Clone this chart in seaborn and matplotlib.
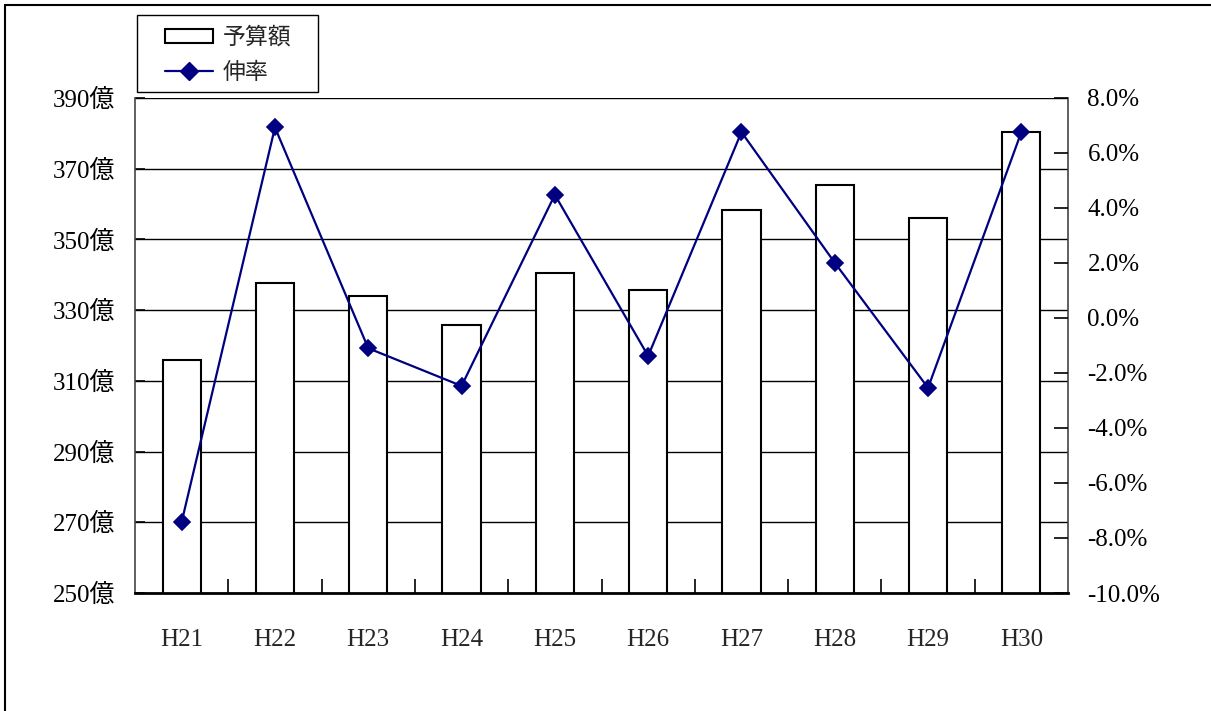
import matplotlib
matplotlib.use("Agg")
import matplotlib.pyplot as plt
from matplotlib.lines import Line2D
from matplotlib.patches import Patch, Rectangle
from matplotlib.ticker import FixedLocator
import seaborn as sns
import numpy as np

years = ["H21", "H22", "H23", "H24", "H25", "H26", "H27", "H28", "H29", "H30"]
budget = [315.9, 337.8, 334.0, 325.8, 340.6, 335.6, 358.3, 365.5, 356.2, 380.3]
growth = [-7.42, 6.93, -1.10, -2.47, 4.48, -1.38, 6.76, 2.01, -2.54, 6.76]
left_ticks = [250, 270, 290, 310, 330, 350, 370, 390]
right_ticks = [-10, -8, -6, -4, -2, 0, 2, 4, 6, 8]
bar_label = "予算額"
line_label = "伸率"

sns.set_style("white")
plt.rcParams['font.family'] = ['Liberation Serif', 'Noto Sans CJK JP', 'DejaVu Sans']

W, H = 1211, 711
fig = plt.figure(figsize=(W / 100, H / 100), dpi=100)
L, R, T, B = 135, 1068, 98, 593
ax = fig.add_axes([L / W, 1 - B / H, (R - L) / W, (B - T) / H])

sns.barplot(x=years, y=budget, ax=ax, color="white", edgecolor="black",
            linewidth=1.5, width=0.41, saturation=1)
ax.set_xlim(-0.5, len(years) - 0.5)
ax.set_ylim(left_ticks[0], left_ticks[-1])
ax.yaxis.set_major_locator(FixedLocator(left_ticks))
ax.set_yticklabels([f"{v}億" for v in left_ticks], fontsize=18)
ax.set_axisbelow(True)
ax.grid(axis="y", color="black", linewidth=1)
ax.grid(axis="x", visible=False)
ax.set_xlabel("")
ax.set_ylabel("")
ax.xaxis.set_minor_locator(FixedLocator(np.arange(0.5, len(years) - 0.5, 1)))
ax.tick_params(axis="x", which="major", length=0, pad=26, labelsize=18)
ax.tick_params(axis="x", which="minor", direction="in", length=10, width=1.2, color="black", bottom=True)
ax.tick_params(axis="y", direction="in", length=7, width=1.2, pad=14, left=True, colors="black")

for s in ["left", "right"]:
    ax.spines[s].set_color("#444444")
    ax.spines[s].set_linewidth(1.2)
ax.spines["top"].set_visible(False)
ax.spines["bottom"].set_color("black")
ax.spines["bottom"].set_linewidth(2)

ax2 = ax.twinx()
sns.pointplot(x=years, y=growth, ax=ax2, color="#000080", markers="D",
              linestyles="-", markersize=8, linewidth=1.6, errorbar=None)
ax2.set_xlim(-0.5, len(years) - 0.5)
ax2.set_ylim(right_ticks[0], right_ticks[-1])
ax2.yaxis.set_major_locator(FixedLocator(right_ticks))
ax2.set_yticklabels([f"{v:.1f}%" for v in right_ticks], fontsize=18)
ax2.set_ylabel("")
ax2.grid(False)
ax2.tick_params(axis="y", direction="in", length=10, width=1.2, pad=14, right=True, colors="black")
for s in ["left", "right", "top", "bottom"]:
    ax2.spines[s].set_visible(False)

# legend frame drawn separately so its box matches the reference size
fig.add_artist(Rectangle((137 / W, 1 - 92 / H), (318 - 137) / W, (92 - 15) / H,
                         transform=fig.transFigure, facecolor="white",
                         edgecolor="black", linewidth=1, zorder=2))
handles = [Patch(facecolor="white", edgecolor="black", linewidth=1.5),
           Line2D([], [], color="#000080", marker="D", markersize=9, linewidth=1.6)]
leg = fig.legend(handles, [bar_label, line_label], loc="upper left",
                 bbox_to_anchor=(165 / W, 1 - 26 / H), frameon=False, borderaxespad=0,
                 prop={"family": ["Noto Sans CJK JP"], "size": 16.5},
                 handlelength=2.1, handleheight=0.55, labelspacing=0.52,
                 borderpad=0, handletextpad=0.4)
leg.set_zorder(3)

fig.add_artist(Line2D([5 / W, 5 / W], [0, 1 - 5 / H], transform=fig.transFigure, color="black", lw=1.5))
fig.add_artist(Line2D([5 / W, 1], [1 - 5 / H, 1 - 5 / H], transform=fig.transFigure, color="black", lw=1.5))

fig.savefig("out.png", dpi=100)
